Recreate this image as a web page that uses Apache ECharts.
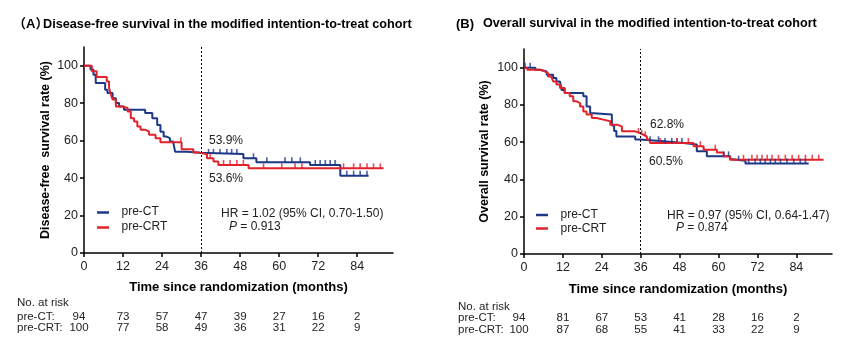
<!DOCTYPE html>
<html>
<head>
<meta charset="utf-8">
<script src="https://cdn.jsdelivr.net/npm/echarts@6/dist/echarts.min.js"></script>
<style>
  html, body { margin: 0; padding: 0; background: #fff; }
  #main { width: 865px; height: 352px; }
</style>
</head>
<body>
<div id="main"></div>
<script>
// tick labels
const xTicks = [0, 12, 24, 36, 48, 60, 72, 84];
const yTicks = [0, 20, 40, 60, 80, 100];

// (A) disease-free survival, step points [month, %]
const dfsCT = [[0,100],[2,98],[2.9,95.2],[3.6,90.8],[6.5,87.2],[7.2,85.4],[8.8,82.7],[9.8,80.1],[10.8,78.2],[12.3,76.5],[18.8,74.7],[21,72],[22.5,68.4],[23.5,64.8],[24.5,62.2],[25.4,61.3],[26.4,59.5],[27.4,58.6],[28,54.1],[31.6,53.5],[35.7,52.9],[49,50.6],[53,48.4],[69.5,47],[78.8,41.3],[87.5,41.3]];
const dfsCRT = [[0,100],[2.4,97],[3.9,94],[7,91.6],[7.7,88.1],[8.3,84.5],[8.8,82],[9.8,78.2],[11.8,77.4],[13.4,75.6],[14.4,72],[15.4,70.2],[16.4,67.5],[17.4,65.8],[18.9,64.8],[20,63.1],[22,61.3],[23.5,59.2],[30,55.4],[33.6,53.6],[35.5,52.7],[37.8,50.6],[39.8,48.8],[41.3,47],[50.6,45.2],[92.1,45.2]];
const dfsCTCens = [38.3,39.8,41.8,43.9,45.4,47,52.1,56.2,61.8,63.9,66.5,71.1,72.6,74.2,75.7,77.2,80.8,82.9,84.9,87];
const dfsCRTCens = [29.8,38.8,42.9,44.9,47,49,55.2,60.8,64.9,67,79.8,82.9,84.9,87,89,91.1];

// (B) overall survival
const osCT = [[0,100],[3.5,98.9],[5,98],[7,96.2],[9,94.5],[10,92.6],[11.1,91.8],[11.6,88],[12.5,86.4],[18.3,84.6],[19.3,79.2],[20.4,75.7],[21,74.8],[27.1,69],[27.8,66],[28.5,63.1],[34.3,61.4],[35.8,60.5],[43,59.6],[49.2,58.7],[53.3,55.1],[56.4,52.4],[63.6,51],[63.8,50.1],[68.3,48.5],[87.8,48.5]];
const osCRT = [[0,100],[1,98.9],[4.9,98],[6.4,97.1],[7.4,95.3],[8.4,94.4],[9,92.6],[10,90.9],[11.1,89.1],[12.6,86.4],[14.1,84.6],[15.2,81.9],[16.2,81],[17.3,79.2],[18.3,76.5],[19.3,74.8],[20.9,73],[22.4,72.1],[24.5,71.2],[26.6,69.4],[28.7,68.5],[30.2,65.8],[34.2,64.9],[35.8,64],[36.8,63.1],[37.9,61.4],[38.9,59.6],[52.3,57.8],[55.4,56],[59.5,54.5],[61.6,52.4],[63.5,50.6],[92.4,50.6]];
const osCTCens = [0.3,1.9,38.9,41.5,43.5,45.6,47.2,48.7,61.6,63.1,66.2,69.3,71.3,72.9,74.4,76,77.5,79.1,81.1,83.2,85.2,86.8];
const osCRTCens = [35.3,36.3,37.4,42,47.2,50.7,54.4,59,67.7,70.3,71.9,73.4,75,76.5,78.5,80.6,82.7,84.7,86.8,88.9,90.9];

// number at risk
const riskDfsCT = [94, 73, 57, 47, 39, 27, 16, 2];
const riskDfsCRT = [100, 77, 58, 49, 36, 31, 22, 9];
const riskOsCT = [94, 81, 67, 53, 41, 28, 16, 2];
const riskOsCRT = [100, 87, 68, 55, 41, 33, 22, 9];

const BLUE = '#1c3886';
const RED = '#e2222b';
const FONT = '"Liberation Sans", Arial, sans-serif';

// survival value at time t (step function)
function survAt(curve, t) {
    let v = curve[0][1];
    for (const p of curve) { if (p[0] <= t) v = p[1]; }
    return v;
}

function makeAxes(i, yName, nameGap, xNameGap) {
    const x = {
        type: 'value', gridIndex: i, min: 0, max: 95,
        name: 'Time since randomization (months)', nameLocation: 'middle', nameGap: xNameGap,
        nameTextStyle: { fontFamily: FONT, fontWeight: 'bold', fontSize: 13, color: '#000' },
        axisLine: { lineStyle: { color: '#000', width: 1.5 } },
        axisTick: { customValues: xTicks, length: 4, lineStyle: { color: '#000', width: 1.5 } },
        axisLabel: { customValues: xTicks, margin: 7, fontFamily: FONT, fontSize: 12.5, color: '#222' },
        splitLine: { show: false }
    };
    const y = {
        type: 'value', gridIndex: i, min: 0, max: 110,
        name: yName, nameLocation: 'middle', nameGap: nameGap,
        nameTextStyle: { fontFamily: FONT, fontWeight: 'bold', fontSize: 12.5, color: '#000' },
        axisLine: { show: true, lineStyle: { color: '#000', width: 1.5 } },
        axisTick: { show: true, customValues: yTicks, length: 4, lineStyle: { color: '#000', width: 1.5 } },
        axisLabel: { customValues: yTicks, margin: 6, fontFamily: FONT, fontSize: 12.5, color: '#222' },
        splitLine: { show: false }
    };
    return [x, y];
}

function curveSeries(name, i, data, color, withMark) {
    const s = {
        name: name, type: 'line', step: 'end', xAxisIndex: i, yAxisIndex: i,
        data: data, showSymbol: false, symbol: 'none',
        lineStyle: { color: color, width: 2 }, itemStyle: { color: color },
        animation: false
    };
    if (withMark) {
        s.markLine = {
            silent: true, symbol: 'none', label: { show: false },
            lineStyle: { color: '#000', width: 1, type: [2, 2] },
            data: [{ xAxis: 36 }]
        };
    }
    return s;
}

function censSeries(i, curve, times, color) {
    return {
        type: 'scatter', xAxisIndex: i, yAxisIndex: i,
        data: times.map(t => [t, survAt(curve, t)]),
        symbol: 'rect', symbolSize: [1.6, 5], symbolOffset: [0, -2.5],
        itemStyle: { color: color }, z: 3, animation: false
    };
}

const ax0 = makeAxes(0, 'Disease-free  survival rate (%)', 32, 28);
const ax1 = makeAxes(1, 'Overall survival rate (%)', 33, 29);

const option = {
    backgroundColor: '#fff',
    animation: false,
    grid: [
        { left: 84, top: 47, width: 309, height: 206 },
        { left: 524, top: 49, width: 308, height: 205 }
    ],
    xAxis: [ax0[0], ax1[0]],
    yAxis: [ax0[1], ax1[1]],
    series: [
        curveSeries('pre-CT', 0, dfsCT, BLUE, true),
        curveSeries('pre-CRT', 0, dfsCRT, RED, false),
        censSeries(0, dfsCT, dfsCTCens, BLUE),
        censSeries(0, dfsCRT, dfsCRTCens, RED),
        curveSeries('pre-CT', 1, osCT, BLUE, true),
        curveSeries('pre-CRT', 1, osCRT, RED, false),
        censSeries(1, osCT, osCTCens, BLUE),
        censSeries(1, osCRT, osCRTCens, RED)
    ]
};

const chart = echarts.init(document.getElementById('main'));
chart.setOption(option);

function txt(x, y, text, opt) {
    opt = opt || {};
    return {
        type: 'text', x: x, y: y, silent: true,
        style: Object.assign({
            text: text, fontFamily: FONT, fontSize: 12, fill: '#222',
            align: 'left', verticalAlign: 'middle'
        }, opt)
    };
}
function legLine(x, y, color) {
    return { type: 'line', silent: true, shape: { x1: x, y1: y, x2: x + 12, y2: y }, style: { stroke: color, lineWidth: 2.5 } };
}

const italicP = { rich: { i: { fontStyle: 'italic', fontFamily: FONT, fontSize: 12, fill: '#222' } } };

const g = [
    // titles
    txt(13, 24, '（A）', { fontWeight: 'bold', fontSize: 13, fill: '#000', fontFamily: FONT + ', "Noto Sans CJK SC"' }),
    txt(43, 24, 'Disease-free survival in the modified intention-to-treat cohort', { fontWeight: 'bold', fontSize: 12.7, fill: '#000' }),
    txt(456, 24, '(B)', { fontWeight: 'bold', fontSize: 13, fill: '#000' }),
    txt(483, 24, 'Overall survival in the modified intention-to-treat cohort', { fontWeight: 'bold', fontSize: 12.6, fill: '#000' }),
    // landmark labels
    txt(209, 141, '53.9%'), txt(209, 179, '53.6%'),
    txt(650, 125, '62.8%'), txt(649, 162, '60.5%'),
    // legends
    legLine(97, 212.5, BLUE), legLine(97, 227.5, RED),
    txt(121.5, 212, 'pre-CT'), txt(121.5, 227, 'pre-CRT'),
    legLine(536, 215, BLUE), legLine(536, 228.5, RED),
    txt(560.5, 215, 'pre-CT'), txt(560.5, 228.5, 'pre-CRT'),
    // HR
    txt(221, 214, 'HR = 1.02 (95% CI, 0.70-1.50)'),
    txt(229, 227, '{i|P} = 0.913', italicP),
    txt(667, 216, 'HR = 0.97 (95% CI, 0.64-1.47)'),
    txt(676, 228, '{i|P} = 0.874', italicP),
    // risk table labels
    txt(17, 303, 'No. at risk', { fontSize: 11.5 }),
    txt(17, 317, 'pre-CT:', { fontSize: 11.5 }),
    txt(17, 327.5, 'pre-CRT:', { fontSize: 11.5 }),
    txt(458, 307, 'No. at risk', { fontSize: 11.5 }),
    txt(458, 318, 'pre-CT:', { fontSize: 11.5 }),
    txt(458, 330, 'pre-CRT:', { fontSize: 11.5 })
];

function riskRow(gi, vals, y) {
    vals.forEach((v, k) => {
        const px = chart.convertToPixel({ gridIndex: gi }, [xTicks[k], 0])[0];
        g.push(txt(px + (k === 0 ? -5 : 0), y, String(v), { align: 'center', fontSize: 11.5 }));
    });
}
riskRow(0, riskDfsCT, 317);
riskRow(0, riskDfsCRT, 327.5);
riskRow(1, riskOsCT, 318);
riskRow(1, riskOsCRT, 330);

chart.setOption({ graphic: g });
</script>
</body>
</html>
